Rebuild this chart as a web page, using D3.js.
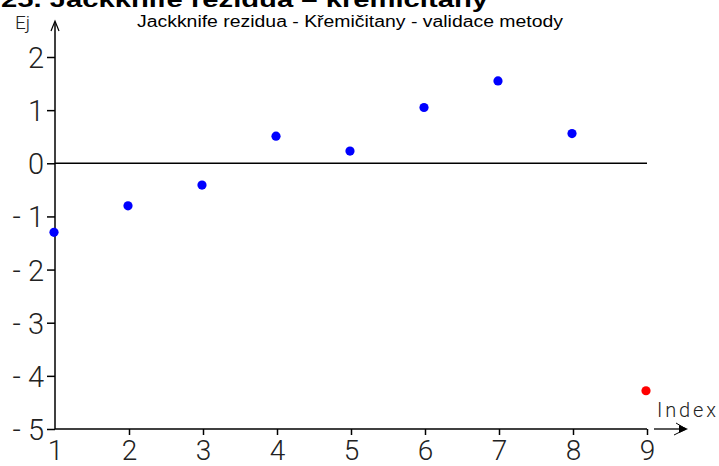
<!DOCTYPE html>
<html>
<head>
<meta charset="utf-8">
<script src="https://cdn.jsdelivr.net/npm/d3@7"></script>
<style>
  html, body { margin: 0; padding: 0; background: #fff; }
  svg { display: block; font-family: "Liberation Sans", Arial, sans-serif; }
</style>
</head>
<body>
<svg id="chart" width="719" height="466"></svg>
<script>
// Jackknife residuals by observation index
const indices = [1, 2, 3, 4, 5, 6, 7, 8, 9];
const residuals = [-1.30, -0.80, -0.41, 0.51, 0.23, 1.05, 1.55, 0.56, -4.28];
const outlierIndex = [9];
const yTicks = [2, 1, 0, -1, -2, -3, -4, -5];
const xTicks = [1, 2, 3, 4, 5, 6, 7, 8, 9];

const svg = d3.select("#chart");

const x = d3.scaleLinear().domain([1, 9]).range([55, 647]);
const y = d3.scaleLinear().domain([-5, 2]).range([429, 57]);

const tickFont = "Roboto, 'Liberation Sans', Arial, sans-serif";

// Headline and chart subtitle
svg.append("text")
  .attr("x", 1).attr("y", 7)
  .attr("font-size", 22).attr("font-weight", "bold")
  .attr("textLength", 487).attr("lengthAdjust", "spacingAndGlyphs")
  .text("25. Jackknife rezidua – křemičitany");

svg.append("text")
  .attr("x", 137).attr("y", 27)
  .attr("font-size", 16)
  .attr("textLength", 426).attr("lengthAdjust", "spacingAndGlyphs")
  .text("Jackknife rezidua - Křemičitany - validace metody");

// Y axis with arrow
const yAxis = d3.axisLeft(y).tickValues(yTicks).tickSize(8).tickPadding(4)
  .tickFormat(d => d < 0 ? "- " + Math.abs(d) : String(d));
const gy = svg.append("g").attr("transform", "translate(55,0)").call(yAxis);
gy.select(".domain").remove();
gy.selectAll(".tick line").attr("stroke", "#000").attr("stroke-width", 1.5);
gy.selectAll(".tick text")
  .attr("font-size", 29).attr("font-weight", 300).attr("fill", "#222")
  .attr("font-family", tickFont)
  .attr("dy", "0.36em").attr("x", -11);

svg.append("line")
  .attr("x1", 55).attr("x2", 55).attr("y1", y(-5)).attr("y2", 22)
  .attr("stroke", "#000").attr("stroke-width", 1.5);
svg.append("path")
  .attr("d", "M51,31 L55,21 L59,31")
  .attr("fill", "none").attr("stroke", "#000").attr("stroke-width", 1.2);
svg.append("text")
  .attr("x", 15).attr("y", 29)
  .attr("font-size", 19).attr("font-weight", 300).attr("fill", "#222")
  .attr("font-family", tickFont)
  .text("Ej");

// X axis with ticks below
const xAxis = d3.axisBottom(x).tickValues(xTicks).tickSize(6).tickPadding(5)
  .tickFormat(d3.format("d"));
const gx = svg.append("g").attr("transform", `translate(0,${y(-5)})`).call(xAxis);
gx.select(".domain").remove();
gx.selectAll(".tick line").attr("stroke", "#000").attr("stroke-width", 1.5);
gx.selectAll(".tick text")
  .attr("font-size", 28).attr("font-weight", 300).attr("fill", "#222")
  .attr("font-family", tickFont)
  .attr("dy", "0.7em");
gx.select(".tick:first-of-type line").remove();

svg.append("line")
  .attr("x1", x(1)).attr("x2", x(9)).attr("y1", y(-5)).attr("y2", y(-5))
  .attr("stroke", "#000").attr("stroke-width", 1.5);

// Zero reference line
svg.append("line")
  .attr("x1", x(1)).attr("x2", x(9)).attr("y1", y(0)).attr("y2", y(0))
  .attr("stroke", "#000").attr("stroke-width", 1.5);

// Index arrow and label
svg.append("line")
  .attr("x1", 654).attr("x2", 686).attr("y1", y(-5)).attr("y2", y(-5))
  .attr("stroke", "#000").attr("stroke-width", 1.3);
svg.append("path")
  .attr("d", `M679,${y(-5) - 4} L688,${y(-5)} L679,${y(-5) + 4} Z`)
  .attr("fill", "#000");
svg.append("path")
  .attr("d", `M676,${y(-5) - 6} L686,${y(-5)} L674,${y(-5) + 6}`)
  .attr("fill", "none").attr("stroke", "#000").attr("stroke-width", 1);
svg.append("text")
  .attr("x", 657).attr("y", 417)
  .attr("font-size", 20).attr("font-weight", 300).attr("fill", "#222")
  .attr("font-family", tickFont)
  .attr("textLength", 59).attr("lengthAdjust", "spacing")
  .text("Index");

// Residual points
svg.append("g").selectAll("circle")
  .data(indices.map((d, i) => ({ idx: d, val: residuals[i] })))
  .join("circle")
  .attr("cx", d => x(d.idx) - 1)
  .attr("cy", d => y(d.val))
  .attr("r", 4.6)
  .attr("fill", d => outlierIndex.includes(d.idx) ? "#ff0000" : "#0000ff");
</script>
</body>
</html>
